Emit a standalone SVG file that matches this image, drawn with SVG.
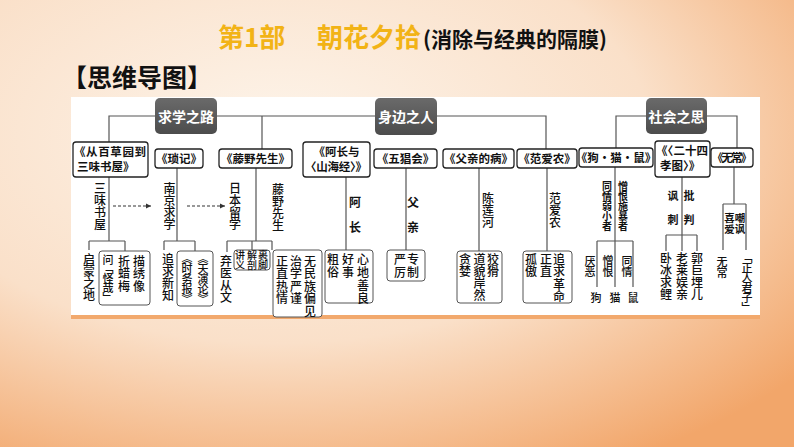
<svg xmlns="http://www.w3.org/2000/svg" width="794" height="447" viewBox="0 0 794 447">
<defs>
<radialGradient id="bg" cx="0.35" cy="0.3" r="0.85">
<stop offset="0" stop-color="#fdf4ea"/>
<stop offset="0.55" stop-color="#fae0c9"/>
<stop offset="1" stop-color="#f2a66a"/>
</radialGradient>
<linearGradient id="cg" x1="0" y1="0" x2="0" y2="1">
<stop offset="0" stop-color="#6a6a6a"/>
<stop offset="1" stop-color="#4c4c4c"/>
</linearGradient>
<marker id="ar" markerWidth="6" markerHeight="6" refX="5" refY="3" orient="auto" markerUnits="userSpaceOnUse">
<path d="M0,0.5 L5,3 L0,5.5 Z" fill="#333"/>
</marker>
</defs>
<style>
.ln{stroke:#555;stroke-width:1.2;fill:none}
.da{stroke:#333;stroke-width:1.1;fill:none;stroke-dasharray:3 2}
.bk{fill:#fff;stroke:#222;stroke-width:1.3}
.bx{fill:#fff;stroke:#555;stroke-width:1}
.cat{fill:url(#cg)}
.ct{font-family:"Noto Sans CJK SC",sans-serif;font-weight:bold;font-size:14px;fill:#fff;text-anchor:middle}
.bt{font-family:"Noto Sans CJK SC",sans-serif;font-weight:bold;font-size:11.5px;fill:#111;text-anchor:middle}
.bl{font-family:"Noto Sans CJK SC",sans-serif;font-weight:bold;font-size:11.5px;fill:#111}
.v{font-family:"Noto Sans CJK SC",sans-serif;font-size:12px;font-weight:500;fill:#111;writing-mode:vertical-rl;letter-spacing:0.3px}
.h{font-family:"Noto Sans CJK SC",sans-serif;font-size:12px;fill:#111;text-anchor:middle;font-weight:bold}
</style>
<rect width="794" height="447" fill="url(#bg)"/>
<g id="title">
<text x="218" y="47" font-family="Noto Sans CJK SC, sans-serif" font-weight="bold" font-size="26" fill="#f2b316">第1部</text>
<text x="317" y="47" font-family="Noto Sans CJK SC, sans-serif" font-weight="bold" font-size="26" fill="#f2b316">朝花夕拾</text>
<text x="423" y="47" font-family="Noto Sans CJK SC, sans-serif" font-weight="bold" font-size="21" fill="#111" textLength="184">(消除与经典的隔膜)</text>
</g>
<g id="heading">
<text x="62" y="87" font-family="Noto Sans CJK SC, sans-serif" font-weight="bold" font-size="25" fill="#111">【思维导图】</text>
</g>
<g id="panel">
<rect x="71" y="97" width="689" height="219" fill="#fff"/>
<rect x="71" y="315" width="689" height="4" fill="#f2a96d"/>
</g>
<g id="connectors">
<path class="ln" d="M109 142V116H155M217 116H375M262 116V149M437 116H546V149M646 116H616V148M707 116H737V148"/>
<path class="ln" d="M109 177V241M89 241H125M89 241V250M125 241V251"/>
<path class="ln" d="M177 168V241M164 241H195M164 241V250M195 241V251"/>
<path class="ln" d="M256 168V241M227 241H272M227 241V252M252 241V250M272 241V250"/>
<path class="ln" d="M346 177V250M406 168V250M479 168V251M547 168V251"/>
<path class="ln" d="M615 167V287M597 241H633M597 241V287M633 241V287"/>
<path class="ln" d="M682 177V235M666 235H697M666 235V251M682 235V251M697 235V251"/>
<path class="ln" d="M734 167V204M723 204H746M723 204V250M746 204V250"/>
<path class="da" d="M113 206H151" marker-end="url(#ar)"/>
<path class="da" d="M187 206H225" marker-end="url(#ar)"/>
</g>
<g id="cat-study">
<rect class="cat" x="155" y="98" width="62" height="36" rx="5"/>
<text class="ct" x="186" y="121.5">求学之路</text>
</g>
<g id="cat-people">
<rect class="cat" x="375" y="98" width="62" height="37" rx="5"/>
<text class="ct" x="406" y="121.5">身边之人</text>
</g>
<g id="cat-society">
<rect class="cat" x="646" y="98" width="61" height="36" rx="5"/>
<text class="ct" x="676.5" y="121.5">社会之思</text>
</g>
<g id="book-baicaoyuan">
<rect class="bk" x="73" y="142" width="75" height="35" rx="3"/>
<text class="bl" x="74" y="156" font-size="12" textLength="72">《从百草园到</text>
<text class="bl" x="77" y="170.5" font-size="12">三味书屋》</text>
</g>
<g id="book-suoji">
<rect class="bk" x="155" y="149" width="48" height="19" rx="3"/>
<text class="bt" x="179" y="163">《琐记》</text>
</g>
<g id="book-tengye">
<rect class="bk" x="219" y="149" width="73" height="19" rx="3"/>
<text class="bt" x="255.5" y="163">《藤野先生》</text>
</g>
<g id="book-achang">
<rect class="bk" x="303" y="142" width="67" height="35" rx="3"/>
<text class="bt" x="336.5" y="156">《阿长与</text>
<text class="bt" x="336" y="170.5" textLength="62">〈山海经〉》</text>
</g>
<g id="book-wuchang-hui">
<rect class="bk" x="374" y="149" width="63" height="19" rx="3"/>
<text class="bt" x="405.5" y="163">《五猖会》</text>
</g>
<g id="book-fuqin">
<rect class="bk" x="443" y="149" width="71" height="19" rx="3"/>
<text class="bt" x="478.5" y="163">《父亲的病》</text>
</g>
<g id="book-fanainong">
<rect class="bk" x="517" y="149" width="60" height="19" rx="3"/>
<text class="bt" x="547" y="163">《范爱农》</text>
</g>
<g id="book-goumaoshu">
<rect class="bk" x="579" y="148" width="74" height="19" rx="3"/>
<text class="bt" x="616" y="162">《狗·猫·鼠》</text>
</g>
<g id="book-ershisi">
<rect class="bk" x="655" y="141" width="55" height="36" rx="3"/>
<text class="bl" x="656" y="155" textLength="52">《〈二十四</text>
<text class="bl" x="660" y="169.5">孝图〉》</text>
</g>
<g id="book-wuchang">
<rect class="bk" x="711" y="148" width="42" height="19" rx="3"/>
<text class="bt" x="732" y="162" textLength="40">《无常》</text>
</g>
<g id="labels-study">
<text class="v" x="100" y="182">三味书屋</text>
<text class="v" x="169.5" y="182">南京求学</text>
<text class="v" x="235" y="182">日本留学</text>
<text class="v" x="278" y="183">藤野先生</text>
<text class="v" x="89" y="253" style="letter-spacing:0">启蒙之地</text>
<text class="v" x="168" y="253" style="letter-spacing:0">追求新知</text>
<text class="v" x="226" y="255" style="letter-spacing:0">弃医从文</text>
</g>
<g id="box-baicaoyuan">
<rect class="bx" x="99" y="251" width="51" height="54" rx="3"/>
<text class="v" x="108" y="254" style="font-size:11px;letter-spacing:-1.4px">问「怪哉」</text>
<text class="v" x="124" y="255" style="letter-spacing:0.5px">折蜡梅</text>
<text class="v" x="139" y="255" style="letter-spacing:0.5px">描绣像</text>
</g>
<g id="box-suoji">
<rect class="bx" x="177" y="251" width="36" height="55" rx="3"/>
<text class="v" x="187" y="253" style="font-size:11px;letter-spacing:-0.8px">《时务报》</text>
<text class="v" x="203" y="253" style="font-size:11px;letter-spacing:-0.8px">《天演论》</text>
</g>
<g id="box-jiangyi">
<rect class="bx" x="234" y="250" width="36" height="20" rx="3"/>
<text class="v" x="240" y="250" style="font-size:10px;letter-spacing:0">讲义</text>
<text class="v" x="252" y="250" style="font-size:10px;letter-spacing:0">解剖</text>
<text class="v" x="263" y="250" style="font-size:10px;letter-spacing:0">裹脚</text>
</g>
<g id="box-tengye">
<rect class="bx" x="273" y="250" width="49" height="67" rx="3"/>
<text class="v" x="282" y="255" style="letter-spacing:0.6px">正直热情</text>
<text class="v" x="296" y="255" style="letter-spacing:0.6px">治学严谨</text>
<text class="v" x="310" y="255" style="letter-spacing:0.6px">无民族偏见</text>
</g>
<g id="labels-people">
<text class="h" x="355" y="207">阿</text>
<text class="h" x="355" y="231.5">长</text>
<text class="h" x="413" y="207">父</text>
<text class="h" x="413" y="231.5">亲</text>
<text class="v" x="488" y="192">陈莲河</text>
<text class="v" x="555" y="192">范爱农</text>
</g>
<g id="box-achang">
<rect class="bx" x="325" y="250" width="48" height="53" rx="3"/>
<text class="v" x="333" y="253" style="letter-spacing:1px">粗俗</text>
<text class="v" x="348" y="253" style="letter-spacing:1px">好事</text>
<text class="v" x="363" y="253" style="letter-spacing:1px">心地善良</text>
</g>
<g id="box-fuqin">
<rect class="bx" x="387" y="250" width="38" height="31" rx="3"/>
<text class="v" x="400" y="253" style="letter-spacing:1px">严厉</text>
<text class="v" x="413" y="253" style="letter-spacing:1px">专制</text>
</g>
<g id="box-chenlianhe">
<rect class="bx" x="457" y="251" width="45" height="52" rx="3"/>
<text class="v" x="465" y="253">贪婪</text>
<text class="v" x="479.5" y="253">道貌岸然</text>
<text class="v" x="493" y="253">狡猾</text>
</g>
<g id="box-fanainong">
<rect class="bx" x="523" y="251" width="49" height="52" rx="3"/>
<text class="v" x="531" y="253" style="letter-spacing:0.5px">孤傲</text>
<text class="v" x="546" y="253" style="letter-spacing:0.5px">正直</text>
<text class="v" x="559" y="253" style="letter-spacing:0.5px">追求革命</text>
</g>
<g id="labels-society">
<text class="v" x="607" y="181" style="font-size:10px;letter-spacing:0;font-weight:bold">同情弱小者</text>
<text class="v" x="623" y="181" style="font-size:10px;letter-spacing:0;font-weight:bold">憎恨施暴者</text>
<text class="v" x="590" y="255" style="font-size:11px;letter-spacing:0">厌恶</text>
<text class="v" x="608" y="255" style="font-size:11px;letter-spacing:0">憎恨</text>
<text class="v" x="627" y="255" style="font-size:11px;letter-spacing:0">同情</text>
<text class="h" x="596" y="301.5" style="font-size:11px;font-weight:500">狗</text>
<text class="h" x="615" y="301.5" style="font-size:11px;font-weight:500">猫</text>
<text class="h" x="633" y="301.5" style="font-size:11px;font-weight:500">鼠</text>
<text class="h" x="673" y="200" style="font-size:11px">讽</text>
<text class="h" x="673" y="224" style="font-size:11px">刺</text>
<text class="h" x="689" y="200" style="font-size:11px">批</text>
<text class="h" x="689" y="224" style="font-size:11px">判</text>
<text class="v" x="666" y="252">卧冰求鲤</text>
<text class="v" x="682" y="252">老莱娱亲</text>
<text class="v" x="697" y="252">郭巨埋儿</text>
<text class="v" x="729.5" y="213" style="font-size:10.5px;letter-spacing:0;font-weight:bold">喜爱</text>
<text class="v" x="740" y="213" style="font-size:10.5px;letter-spacing:0;font-weight:bold">嘲讽</text>
<text class="v" x="722" y="256" style="font-size:11px;letter-spacing:0">无常</text>
<text class="v" x="747" y="252" style="font-size:11px;letter-spacing:-1px">「正人君子」</text>
</g>
</svg>
